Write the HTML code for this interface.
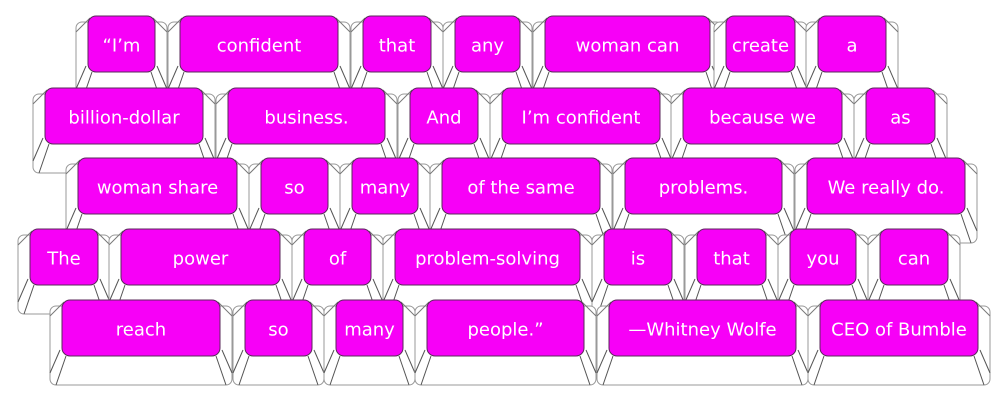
<!DOCTYPE html>
<html><head><meta charset="utf-8"><style>
html,body{margin:0;padding:0;background:#fff;width:1000px;height:419px;overflow:hidden}
svg text{font-family:"DejaVu Sans","Liberation Sans",sans-serif;font-size:18px;fill:#fff;text-anchor:middle;dominant-baseline:central}
</style></head><body>
<svg id="s" width="1000" height="419" xmlns="http://www.w3.org/2000/svg">
<g id="g"></g>
</svg>
<script>
const rows=[
[16,72,[[88,155,"“I’m"],[180,338,"confident"],[363,431,"that"],[455,520,"any"],[545,710,"woman can"],[726,795,"create"],[818,886,"a"]]],
[88,144,[[45,203,"billion-dollar"],[228,385,"business."],[410,478,"And"],[502,660,"I’m confident"],[683,842,"because we"],[866,935,"as"]]],
[158,214,[[78,237,"woman share"],[261,328,"so"],[352,418,"many"],[442,600,"of the same"],[625,782,"problems."],[807,965,"We really do."]]],
[229,285,[[30,98,"The"],[121,280,"power"],[304,371,"of"],[395,580,"problem-solving"],[604,672,"is"],[697,766,"that"],[790,856,"you"],[880,948,"can"]]],
[300,356,[[62,220,"reach"],[245,312,"so"],[336,403,"many"],[427,584,"people.”"],[609,796,"—Whitney Wolfe"],[820,978,"CEO of Bumble"]]]
];
let h="";
for(const [y1,y2,keys] of rows){
 for(const [x1,x2,t] of keys){
  const bx1=x1-12,bx2=x2+12,by1=y1+6,by2=y2+29;
  h+=`<rect x="${bx1}" y="${by1}" width="${bx2-bx1}" height="${by2-by1}" rx="6" fill="#fff" stroke="#999" stroke-width="1"/>`;
  h+=`<line x1="${x1+2}" y1="${y1+2}" x2="${bx1}" y2="${by1+10}" stroke="#777"/>`;
  h+=`<line x1="${x2-2}" y1="${y1+2}" x2="${bx2}" y2="${by1+10}" stroke="#777"/>`;
  h+=`<line x1="${x1+4}" y1="${y2}" x2="${bx1+6}" y2="${by2}" stroke="#555"/>`;
  h+=`<line x1="${x1-2}" y1="${y2-6}" x2="${bx1}" y2="${by2-12}" stroke="#555"/>`;
  h+=`<line x1="${x2-4}" y1="${y2}" x2="${bx2-6}" y2="${by2}" stroke="#555"/>`;
  h+=`<line x1="${x2+2}" y1="${y2-6}" x2="${bx2}" y2="${by2-12}" stroke="#555"/>`;
  h+=`<rect x="${x1}" y="${y1}" width="${x2-x1}" height="${y2-y1}" rx="8" fill="#f700f7" stroke="#5a2a5a" stroke-width="1"/>`;
  h+=`<text x="${(x1+x2)/2}" y="${(y1+y2)/2+2}">${t}</text>`;
 }
}
document.getElementById("g").innerHTML=h;
</script>
</body></html>
